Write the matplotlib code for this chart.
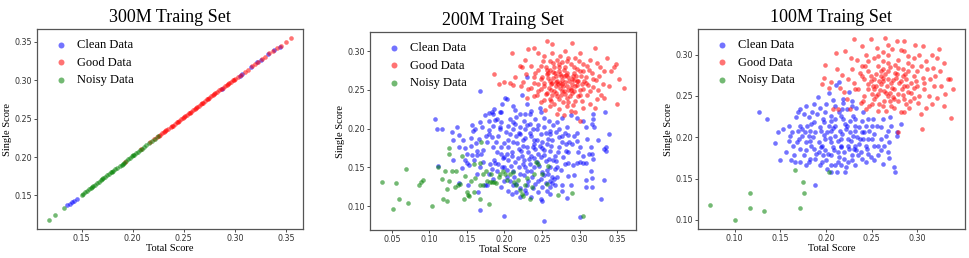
import matplotlib
matplotlib.use("Agg")
import matplotlib.pyplot as plt

plt.rcParams['font.family'] = ['Liberation Serif', 'DejaVu Serif']

titles = ['300M Traing Set', '200M Traing Set', '100M Traing Set']
labels = ['Clean Data', 'Good Data', 'Noisy Data']
colors = ['blue', 'red', 'green']

# ---- 300M: points lie on the diagonal ----
clean_300 = [(0.136, 0.137), (0.138, 0.139), (0.140, 0.141), (0.142, 0.143), (0.145, 0.145),
             (0.287, 0.289), (0.305, 0.306), (0.307, 0.308), (0.316, 0.317), (0.322, 0.324),
             (0.326, 0.327), (0.333, 0.334), (0.338, 0.339), (0.344, 0.344)]
good_300 = [(0.192, 0.193), (0.208, 0.210), (0.217, 0.219), (0.221, 0.223), (0.224, 0.226),
            (0.227, 0.229), (0.229, 0.231), (0.231, 0.233), (0.233, 0.235), (0.235, 0.237),
            (0.237, 0.239), (0.239, 0.241), (0.241, 0.243), (0.243, 0.245), (0.245, 0.247),
            (0.247, 0.249), (0.249, 0.251), (0.251, 0.253), (0.253, 0.255), (0.255, 0.257),
            (0.257, 0.259), (0.259, 0.261), (0.261, 0.263), (0.263, 0.265), (0.265, 0.267),
            (0.267, 0.269), (0.269, 0.271), (0.271, 0.273), (0.273, 0.275), (0.275, 0.277),
            (0.277, 0.279), (0.279, 0.281), (0.281, 0.283), (0.283, 0.285), (0.285, 0.287),
            (0.288, 0.290), (0.290, 0.292), (0.292, 0.294), (0.294, 0.296), (0.296, 0.298),
            (0.298, 0.300), (0.300, 0.302), (0.303, 0.304), (0.306, 0.307), (0.310, 0.311),
            (0.313, 0.314), (0.317, 0.318), (0.320, 0.321), (0.323, 0.324), (0.327, 0.328),
            (0.330, 0.331), (0.334, 0.335), (0.337, 0.338), (0.341, 0.342), (0.345, 0.345),
            (0.350, 0.350), (0.355, 0.355), (0.226, 0.228), (0.232, 0.234), (0.238, 0.240),
            (0.244, 0.246), (0.250, 0.252), (0.256, 0.258), (0.262, 0.264), (0.268, 0.270),
            (0.274, 0.276), (0.280, 0.282), (0.286, 0.288), (0.293, 0.295), (0.299, 0.301)]
noisy_300 = [(0.118, 0.118), (0.124, 0.124), (0.133, 0.134), (0.150, 0.151), (0.151, 0.152),
             (0.153, 0.154), (0.155, 0.156), (0.157, 0.158), (0.159, 0.160), (0.161, 0.162),
             (0.163, 0.164), (0.165, 0.166), (0.167, 0.168), (0.169, 0.170), (0.171, 0.172),
             (0.173, 0.174), (0.175, 0.176), (0.177, 0.178), (0.179, 0.180), (0.181, 0.182),
             (0.183, 0.184), (0.185, 0.186), (0.187, 0.188), (0.189, 0.190), (0.191, 0.192),
             (0.193, 0.195), (0.195, 0.197), (0.197, 0.199), (0.199, 0.201), (0.201, 0.203),
             (0.203, 0.205), (0.205, 0.207), (0.207, 0.209), (0.209, 0.211), (0.211, 0.213),
             (0.213, 0.215), (0.216, 0.218), (0.219, 0.221), (0.222, 0.224), (0.225, 0.227),
             (0.160, 0.161), (0.170, 0.171), (0.180, 0.181), (0.190, 0.191), (0.200, 0.202)]

# ---- 200M ----
clean_200 = [(0.167, 0.249), (0.108, 0.212), (0.110, 0.199), (0.117, 0.200), (0.137, 0.202),
             (0.157, 0.205), (0.168, 0.208), (0.174, 0.217), (0.179, 0.220), (0.183, 0.222),
             (0.185, 0.219), (0.186, 0.225), (0.180, 0.210), (0.187, 0.211), (0.195, 0.221),
             (0.197, 0.232), (0.161, 0.199), (0.170, 0.202), (0.179, 0.198), (0.185, 0.204),
             (0.194, 0.202), (0.230, 0.266), (0.223, 0.244), (0.201, 0.240), (0.203, 0.238),
             (0.194, 0.222), (0.211, 0.229), (0.214, 0.224), (0.221, 0.219), (0.227, 0.219),
             (0.234, 0.219), (0.230, 0.232), (0.236, 0.223), (0.247, 0.227), (0.249, 0.221),
             (0.241, 0.212), (0.252, 0.214), (0.259, 0.210), (0.270, 0.208), (0.276, 0.214),
             (0.288, 0.217), (0.297, 0.214), (0.305, 0.210), (0.318, 0.219), (0.318, 0.212),
             (0.334, 0.222), (0.309, 0.202), (0.196, 0.208), (0.207, 0.212), (0.214, 0.206),
             (0.221, 0.202), (0.227, 0.199), (0.234, 0.206), (0.243, 0.199), (0.252, 0.202),
             (0.261, 0.197), (0.272, 0.199), (0.283, 0.202), (0.212, 0.199), (0.194, 0.199),
             (0.130, 0.196), (0.139, 0.177), (0.132, 0.160), (0.112, 0.152), (0.143, 0.149),
             (0.150, 0.156), (0.153, 0.153), (0.156, 0.188), (0.162, 0.181), (0.164, 0.171),
             (0.157, 0.166), (0.163, 0.166), (0.169, 0.168), (0.172, 0.172), (0.177, 0.183),
             (0.179, 0.193), (0.184, 0.189), (0.189, 0.183), (0.196, 0.177), (0.195, 0.168),
             (0.198, 0.162), (0.192, 0.155), (0.181, 0.155), (0.172, 0.157), (0.168, 0.150),
             (0.163, 0.142), (0.179, 0.142), (0.140, 0.130), (0.151, 0.127), (0.165, 0.119),
             (0.168, 0.095), (0.174, 0.127), (0.177, 0.127), (0.199, 0.087), (0.252, 0.081),
             (0.300, 0.086), (0.339, 0.193), (0.328, 0.110), (0.333, 0.134), (0.316, 0.125),
             (0.308, 0.125), (0.316, 0.137), (0.309, 0.134), (0.315, 0.145), (0.283, 0.111),
             (0.284, 0.139), (0.261, 0.116), (0.249, 0.110), (0.250, 0.107), (0.221, 0.112),
             (0.210, 0.116), (0.316, 0.168), (0.313, 0.167), (0.332, 0.174), (0.335, 0.171),
             (0.335, 0.176), (0.318, 0.161), (0.309, 0.156), (0.305, 0.156), (0.300, 0.157),
             (0.297, 0.156), (0.291, 0.153), (0.285, 0.156), (0.310, 0.187), (0.324, 0.186),
             (0.315, 0.177), (0.300, 0.177), (0.297, 0.184), (0.286, 0.183), (0.285, 0.192),
             (0.296, 0.194), (0.282, 0.171), (0.278, 0.163), (0.275, 0.147), (0.267, 0.148),
             (0.261, 0.150), (0.256, 0.147), (0.250, 0.144), (0.263, 0.138), (0.260, 0.133),
             (0.267, 0.127), (0.261, 0.125), (0.255, 0.130), (0.250, 0.125), (0.241, 0.129),
             (0.238, 0.123), (0.230, 0.127), (0.227, 0.121), (0.221, 0.123), (0.216, 0.129),
             (0.211, 0.127), (0.207, 0.133), (0.203, 0.138), (0.199, 0.133), (0.237, 0.138),
             (0.230, 0.146), (0.221, 0.142), (0.212, 0.146), (0.203, 0.147), (0.197, 0.150),
             (0.243, 0.157), (0.234, 0.155), (0.225, 0.155), (0.214, 0.157), (0.205, 0.159),
             (0.199, 0.163), (0.210, 0.165), (0.223, 0.165), (0.236, 0.165), (0.248, 0.163),
             (0.259, 0.161), (0.267, 0.165), (0.261, 0.171), (0.252, 0.172), (0.241, 0.174),
             (0.230, 0.176), (0.219, 0.174), (0.205, 0.176), (0.199, 0.181), (0.212, 0.183),
             (0.225, 0.185), (0.239, 0.185), (0.250, 0.183), (0.263, 0.185), (0.272, 0.189),
             (0.261, 0.193), (0.248, 0.193), (0.234, 0.194), (0.221, 0.193), (0.208, 0.193),
             (0.273, 0.176), (0.276, 0.183), (0.132, 0.185), (0.145, 0.186), (0.140, 0.192),
             (0.148, 0.175), (0.155, 0.178), (0.158, 0.197), (0.150, 0.168), (0.317, 0.206),
             (0.319, 0.202), (0.205, 0.185), (0.215, 0.190), (0.225, 0.178), (0.232, 0.170),
             (0.240, 0.180), (0.245, 0.168), (0.218, 0.162), (0.228, 0.150), (0.236, 0.145),
             (0.246, 0.152), (0.255, 0.158), (0.262, 0.178), (0.268, 0.158), (0.210, 0.170),
             (0.220, 0.195), (0.235, 0.190), (0.250, 0.175), (0.258, 0.187), (0.203, 0.168),
             (0.190, 0.170), (0.186, 0.160), (0.226, 0.160), (0.240, 0.162), (0.252, 0.140),
             (0.244, 0.132), (0.232, 0.132), (0.257, 0.120), (0.266, 0.135), (0.270, 0.150),
             (0.280, 0.155), (0.285, 0.170), (0.290, 0.180), (0.268, 0.196), (0.245, 0.205),
             (0.230, 0.205), (0.215, 0.215), (0.200, 0.150), (0.190, 0.145), (0.185, 0.135),
             (0.195, 0.125), (0.205, 0.120), (0.217, 0.181), (0.222, 0.171), (0.228, 0.188),
             (0.233, 0.161), (0.238, 0.176), (0.243, 0.186), (0.247, 0.178), (0.253, 0.166),
             (0.256, 0.180), (0.264, 0.160), (0.271, 0.170), (0.277, 0.190), (0.282, 0.180),
             (0.226, 0.140), (0.219, 0.150), (0.209, 0.152), (0.213, 0.138), (0.240, 0.150),
             (0.248, 0.135), (0.258, 0.142), (0.263, 0.130), (0.270, 0.138), (0.276, 0.128),
             (0.244, 0.118), (0.236, 0.112), (0.229, 0.117), (0.216, 0.118), (0.192, 0.190),
             (0.202, 0.196), (0.212, 0.208), (0.226, 0.210), (0.238, 0.199), (0.255, 0.195),
             (0.265, 0.205), (0.280, 0.195), (0.292, 0.190), (0.298, 0.170), (0.304, 0.165),
             (0.293, 0.140), (0.288, 0.128), (0.276, 0.120), (0.185, 0.176), (0.175, 0.190),
             (0.190, 0.213), (0.205, 0.203), (0.160, 0.160), (0.166, 0.187), (0.147, 0.160),
             (0.183, 0.148), (0.188, 0.156)]
good_200 = [(0.257, 0.313), (0.263, 0.309), (0.290, 0.311), (0.320, 0.304), (0.210, 0.297),
            (0.232, 0.303), (0.239, 0.304), (0.228, 0.289), (0.252, 0.294), (0.274, 0.294),
            (0.301, 0.298), (0.337, 0.291), (0.348, 0.284), (0.346, 0.279), (0.359, 0.253),
            (0.353, 0.264), (0.350, 0.232), (0.339, 0.255), (0.329, 0.244), (0.333, 0.240),
            (0.207, 0.259), (0.212, 0.256), (0.222, 0.255), (0.221, 0.281), (0.223, 0.279),
            (0.225, 0.260), (0.214, 0.266), (0.239, 0.242), (0.243, 0.244), (0.248, 0.234),
            (0.261, 0.229), (0.270, 0.219), (0.279, 0.217), (0.288, 0.223), (0.294, 0.221),
            (0.301, 0.210), (0.305, 0.227), (0.314, 0.232), (0.321, 0.227), (0.323, 0.238),
            (0.303, 0.236), (0.283, 0.229), (0.272, 0.226), (0.254, 0.224), (0.230, 0.240),
            (0.232, 0.251), (0.326, 0.268), (0.333, 0.274), (0.342, 0.274), (0.314, 0.289),
            (0.323, 0.285), (0.305, 0.283), (0.294, 0.291), (0.283, 0.287), (0.265, 0.285),
            (0.248, 0.281), (0.241, 0.272), (0.261, 0.276), (0.272, 0.279), (0.292, 0.279),
            (0.301, 0.274), (0.312, 0.276), (0.318, 0.264), (0.309, 0.259), (0.298, 0.261),
            (0.290, 0.264), (0.279, 0.268), (0.268, 0.268), (0.256, 0.270), (0.248, 0.264),
            (0.239, 0.259), (0.252, 0.255), (0.263, 0.259), (0.274, 0.259), (0.283, 0.255),
            (0.294, 0.255), (0.305, 0.251), (0.314, 0.249), (0.301, 0.244), (0.290, 0.246),
            (0.279, 0.249), (0.268, 0.246), (0.256, 0.246), (0.248, 0.251), (0.261, 0.238),
            (0.272, 0.238), (0.283, 0.240), (0.294, 0.236), (0.274, 0.270), (0.186, 0.271),
            (0.193, 0.258), (0.199, 0.260), (0.265, 0.265), (0.270, 0.262), (0.275, 0.268),
            (0.280, 0.260), (0.285, 0.266), (0.278, 0.255), (0.268, 0.255), (0.260, 0.262),
            (0.272, 0.274), (0.283, 0.272), (0.290, 0.258), (0.295, 0.268), (0.262, 0.250),
            (0.276, 0.248), (0.288, 0.250), (0.258, 0.272), (0.266, 0.280), (0.281, 0.280),
            (0.297, 0.262), (0.270, 0.242), (0.255, 0.245), (0.300, 0.250), (0.292, 0.272),
            (0.245, 0.258), (0.250, 0.266), (0.262, 0.236), (0.285, 0.235), (0.308, 0.266),
            (0.304, 0.274), (0.276, 0.286), (0.255, 0.280), (0.262, 0.258), (0.267, 0.272),
            (0.271, 0.258), (0.277, 0.263), (0.282, 0.269), (0.286, 0.261), (0.289, 0.253),
            (0.293, 0.263), (0.297, 0.256), (0.279, 0.276), (0.273, 0.284), (0.264, 0.273),
            (0.258, 0.265), (0.253, 0.259), (0.259, 0.253), (0.266, 0.249), (0.274, 0.252),
            (0.281, 0.245), (0.287, 0.242), (0.293, 0.248), (0.298, 0.242), (0.303, 0.257),
            (0.306, 0.262), (0.311, 0.256), (0.302, 0.268), (0.296, 0.277), (0.288, 0.283),
            (0.284, 0.291), (0.270, 0.289), (0.260, 0.287), (0.251, 0.287), (0.244, 0.276),
            (0.240, 0.266), (0.236, 0.253), (0.245, 0.249), (0.252, 0.237), (0.266, 0.232),
            (0.278, 0.234), (0.291, 0.230), (0.310, 0.244), (0.318, 0.254), (0.322, 0.263),
            (0.316, 0.272), (0.310, 0.281), (0.299, 0.287), (0.263, 0.297), (0.280, 0.300),
            (0.245, 0.298), (0.327, 0.279), (0.331, 0.258), (0.325, 0.250), (0.235, 0.281),
            (0.229, 0.270), (0.277, 0.257), (0.284, 0.250), (0.269, 0.260), (0.256, 0.276),
            (0.291, 0.268), (0.275, 0.244), (0.263, 0.243)]
noisy_200 = [(0.037, 0.131), (0.056, 0.130), (0.052, 0.097), (0.060, 0.110), (0.069, 0.148),
             (0.071, 0.104), (0.086, 0.127), (0.089, 0.131), (0.091, 0.134), (0.103, 0.100),
             (0.111, 0.151), (0.117, 0.135), (0.118, 0.110), (0.121, 0.145), (0.124, 0.122),
             (0.124, 0.107), (0.126, 0.175), (0.126, 0.167), (0.126, 0.133), (0.130, 0.146),
             (0.134, 0.125), (0.136, 0.146), (0.138, 0.127), (0.141, 0.129), (0.143, 0.165),
             (0.146, 0.109), (0.148, 0.139), (0.150, 0.118), (0.152, 0.115), (0.153, 0.113),
             (0.155, 0.132), (0.159, 0.155), (0.159, 0.118), (0.161, 0.136), (0.167, 0.128),
             (0.168, 0.156), (0.168, 0.109), (0.169, 0.183), (0.171, 0.141), (0.172, 0.128),
             (0.175, 0.145), (0.177, 0.133), (0.179, 0.103), (0.181, 0.131), (0.182, 0.142),
             (0.184, 0.131), (0.186, 0.131), (0.189, 0.130), (0.193, 0.138), (0.194, 0.142),
             (0.198, 0.146), (0.201, 0.142), (0.203, 0.134), (0.207, 0.142), (0.211, 0.144),
             (0.213, 0.131), (0.216, 0.127), (0.218, 0.134), (0.221, 0.121), (0.223, 0.116),
             (0.225, 0.113), (0.228, 0.127), (0.230, 0.136), (0.234, 0.109), (0.237, 0.125),
             (0.239, 0.142), (0.242, 0.157), (0.245, 0.155), (0.250, 0.142), (0.257, 0.129),
             (0.258, 0.152), (0.271, 0.115), (0.290, 0.117), (0.304, 0.087)]

# ---- 100M ----
clean_100 = [(0.127, 0.230), (0.135, 0.222), (0.144, 0.193), (0.147, 0.206), (0.150, 0.173),
             (0.153, 0.210), (0.160, 0.214), (0.161, 0.202), (0.165, 0.178), (0.166, 0.170),
             (0.167, 0.224), (0.171, 0.234), (0.178, 0.238), (0.172, 0.170), (0.176, 0.178),
             (0.188, 0.142), (0.191, 0.249), (0.203, 0.253), (0.214, 0.267), (0.211, 0.263),
             (0.219, 0.246), (0.225, 0.255), (0.228, 0.238), (0.201, 0.162), (0.197, 0.178),
             (0.196, 0.190), (0.188, 0.206), (0.181, 0.202), (0.178, 0.194), (0.174, 0.202),
             (0.172, 0.214), (0.179, 0.214), (0.187, 0.218), (0.190, 0.228), (0.197, 0.222),
             (0.203, 0.214), (0.210, 0.222), (0.214, 0.230), (0.219, 0.222), (0.223, 0.214),
             (0.230, 0.226), (0.232, 0.214), (0.239, 0.206), (0.237, 0.198), (0.230, 0.202),
             (0.224, 0.190), (0.217, 0.198), (0.210, 0.202), (0.205, 0.194), (0.199, 0.198),
             (0.192, 0.194), (0.187, 0.186), (0.192, 0.182), (0.199, 0.184), (0.206, 0.178),
             (0.213, 0.182), (0.220, 0.182), (0.228, 0.178), (0.233, 0.184), (0.224, 0.170),
             (0.217, 0.166), (0.212, 0.158), (0.221, 0.158), (0.232, 0.166), (0.239, 0.174),
             (0.246, 0.180), (0.244, 0.190), (0.250, 0.198), (0.257, 0.190), (0.260, 0.198),
             (0.266, 0.202), (0.268, 0.182), (0.262, 0.168), (0.269, 0.175), (0.275, 0.164),
             (0.276, 0.158), (0.278, 0.202), (0.278, 0.206), (0.282, 0.216), (0.256, 0.214),
             (0.250, 0.214), (0.246, 0.222), (0.241, 0.230), (0.233, 0.236), (0.239, 0.220),
             (0.232, 0.190), (0.217, 0.190), (0.208, 0.188), (0.184, 0.190), (0.178, 0.184),
             (0.171, 0.186), (0.168, 0.194), (0.163, 0.206), (0.169, 0.208), (0.174, 0.210),
             (0.183, 0.208), (0.194, 0.208), (0.201, 0.206), (0.206, 0.208), (0.215, 0.208),
             (0.226, 0.206), (0.232, 0.208), (0.226, 0.220), (0.210, 0.214), (0.205, 0.226),
             (0.199, 0.230), (0.193, 0.236), (0.185, 0.230), (0.181, 0.224), (0.176, 0.228),
             (0.169, 0.230), (0.178, 0.166), (0.181, 0.170), (0.188, 0.174), (0.196, 0.170),
             (0.206, 0.166), (0.213, 0.170), (0.220, 0.174), (0.205, 0.158), (0.210, 0.166),
             (0.235, 0.178), (0.244, 0.170), (0.253, 0.172), (0.257, 0.178), (0.260, 0.184),
             (0.264, 0.190), (0.253, 0.190), (0.246, 0.198), (0.242, 0.206), (0.247, 0.208),
             (0.260, 0.212), (0.268, 0.208), (0.269, 0.194), (0.253, 0.204), (0.224, 0.198),
             (0.223, 0.234), (0.219, 0.242), (0.210, 0.238), (0.217, 0.226), (0.232, 0.222),
             (0.186, 0.200), (0.193, 0.212), (0.198, 0.203), (0.204, 0.199), (0.208, 0.211),
             (0.213, 0.196), (0.218, 0.204), (0.222, 0.210), (0.227, 0.196), (0.231, 0.186),
             (0.236, 0.192), (0.241, 0.198), (0.245, 0.186), (0.249, 0.176), (0.238, 0.182),
             (0.228, 0.172), (0.222, 0.164), (0.214, 0.176), (0.202, 0.180), (0.195, 0.188),
             (0.189, 0.180), (0.182, 0.196), (0.177, 0.206), (0.170, 0.198), (0.164, 0.190),
             (0.159, 0.196), (0.156, 0.182), (0.162, 0.172), (0.183, 0.174), (0.193, 0.166),
             (0.200, 0.172), (0.209, 0.184), (0.216, 0.188), (0.225, 0.186), (0.234, 0.200),
             (0.244, 0.214), (0.251, 0.222), (0.262, 0.222), (0.271, 0.214), (0.270, 0.225),
             (0.228, 0.244), (0.208, 0.245), (0.200, 0.240), (0.187, 0.240), (0.184, 0.216),
             (0.198, 0.218), (0.206, 0.220), (0.221, 0.216), (0.218, 0.234), (0.236, 0.212)]
good_100 = [(0.199, 0.287), (0.211, 0.302), (0.221, 0.304), (0.231, 0.319), (0.239, 0.310),
            (0.249, 0.319), (0.265, 0.320), (0.278, 0.316), (0.286, 0.304), (0.306, 0.310),
            (0.322, 0.296), (0.324, 0.307), (0.329, 0.290), (0.336, 0.271), (0.339, 0.258),
            (0.331, 0.252), (0.334, 0.270), (0.329, 0.238), (0.337, 0.223), (0.305, 0.210),
            (0.304, 0.228), (0.310, 0.236), (0.301, 0.242), (0.196, 0.264), (0.198, 0.272),
            (0.205, 0.267), (0.203, 0.260), (0.215, 0.260), (0.223, 0.246), (0.208, 0.234),
            (0.213, 0.234), (0.226, 0.234), (0.244, 0.234), (0.250, 0.240), (0.257, 0.232),
            (0.266, 0.232), (0.271, 0.238), (0.282, 0.230), (0.286, 0.230), (0.279, 0.206),
            (0.224, 0.270), (0.228, 0.282), (0.239, 0.286), (0.246, 0.292), (0.257, 0.298),
            (0.268, 0.300), (0.279, 0.294), (0.290, 0.290), (0.296, 0.296), (0.304, 0.286),
            (0.311, 0.282), (0.314, 0.270), (0.307, 0.266), (0.300, 0.262), (0.293, 0.254),
            (0.286, 0.246), (0.275, 0.246), (0.264, 0.244), (0.253, 0.246), (0.242, 0.250),
            (0.235, 0.258), (0.231, 0.266), (0.239, 0.274), (0.246, 0.280), (0.257, 0.286),
            (0.268, 0.290), (0.279, 0.284), (0.290, 0.280), (0.296, 0.274), (0.300, 0.280),
            (0.293, 0.266), (0.286, 0.262), (0.275, 0.258), (0.264, 0.256), (0.253, 0.258),
            (0.246, 0.264), (0.253, 0.270), (0.260, 0.274), (0.268, 0.270), (0.277, 0.272),
            (0.284, 0.274), (0.260, 0.264), (0.271, 0.266), (0.280, 0.266), (0.268, 0.280),
            (0.260, 0.280), (0.249, 0.274), (0.242, 0.270), (0.257, 0.252), (0.268, 0.250),
            (0.279, 0.252), (0.246, 0.258), (0.241, 0.244), (0.307, 0.258), (0.318, 0.262),
            (0.320, 0.274), (0.313, 0.250), (0.302, 0.250), (0.255, 0.262), (0.262, 0.268),
            (0.272, 0.260), (0.265, 0.276), (0.276, 0.278), (0.250, 0.252), (0.283, 0.258),
            (0.288, 0.270), (0.262, 0.292), (0.270, 0.254), (0.258, 0.240), (0.292, 0.244),
            (0.258, 0.268), (0.263, 0.272), (0.267, 0.262), (0.273, 0.269), (0.278, 0.276),
            (0.282, 0.268), (0.287, 0.276), (0.289, 0.262), (0.284, 0.283), (0.276, 0.288),
            (0.270, 0.285), (0.263, 0.283), (0.255, 0.276), (0.249, 0.268), (0.252, 0.262),
            (0.259, 0.257), (0.266, 0.253), (0.273, 0.249), (0.279, 0.244), (0.284, 0.251),
            (0.290, 0.255), (0.296, 0.260), (0.299, 0.268), (0.294, 0.286), (0.290, 0.298),
            (0.282, 0.305), (0.272, 0.307), (0.262, 0.303), (0.253, 0.296), (0.243, 0.286),
            (0.237, 0.278), (0.232, 0.258), (0.238, 0.242), (0.247, 0.238), (0.262, 0.238),
            (0.275, 0.236), (0.291, 0.236), (0.297, 0.248), (0.306, 0.272), (0.310, 0.292),
            (0.316, 0.300), (0.302, 0.300), (0.317, 0.284), (0.325, 0.280), (0.326, 0.262),
            (0.322, 0.248), (0.316, 0.240), (0.234, 0.293), (0.227, 0.296), (0.218, 0.275),
            (0.212, 0.283), (0.220, 0.255), (0.268, 0.312), (0.256, 0.308), (0.244, 0.300),
            (0.286, 0.316), (0.298, 0.312), (0.288, 0.240), (0.270, 0.244), (0.255, 0.250)]
noisy_100 = [(0.073, 0.118), (0.100, 0.100), (0.117, 0.133), (0.117, 0.115), (0.132, 0.111),
             (0.166, 0.160), (0.171, 0.114), (0.175, 0.146), (0.176, 0.132), (0.203, 0.158)]

panels = [
    [clean_300, good_300, noisy_300],
    [clean_200, good_200, noisy_200],
    [clean_100, good_100, noisy_100],
]
ticks = [
    ([0.15, 0.20, 0.25, 0.30, 0.35], [0.15, 0.20, 0.25, 0.30, 0.35]),
    ([0.05, 0.10, 0.15, 0.20, 0.25, 0.30, 0.35], [0.10, 0.15, 0.20, 0.25, 0.30]),
    ([0.10, 0.15, 0.20, 0.25, 0.30], [0.10, 0.15, 0.20, 0.25, 0.30]),
]
positions = [
    [0.0382, 0.1124, 0.2745, 0.7752],
    [0.3818, 0.1085, 0.2745, 0.7674],
    [0.7203, 0.1124, 0.2755, 0.7752],
]

fig = plt.figure(figsize=(9.69, 2.58), dpi=100)

for i in range(3):
    ax = fig.add_axes(positions[i])
    for series, lab, col in zip(panels[i], labels, colors):
        xs = [p[0] for p in series]
        ys = [p[1] for p in series]
        ax.scatter(xs, ys, s=11, c=col, alpha=0.55, linewidths=0, label=lab)
    ax.set_title(titles[i], fontsize=13, pad=5)
    ax.set_xlabel('Total Score', fontsize=7.5, labelpad=1)
    ax.set_ylabel('Single Score', fontsize=7.5, labelpad=2)
    ax.set_xticks(ticks[i][0])
    ax.set_yticks(ticks[i][1])
    ax.set_xticklabels([f'{t:.2f}' for t in ticks[i][0]], fontfamily='DejaVu Sans')
    ax.set_yticklabels([f'{t:.2f}' for t in ticks[i][1]], fontfamily='DejaVu Sans')
    ax.tick_params(labelsize=5.8, length=2, width=0.6, pad=1.5, colors='#333333')
    for sp in ax.spines.values():
        sp.set_color('#555555')
        sp.set_linewidth(0.9)
    ax.legend(loc='upper left', bbox_to_anchor=(0.03, 0.99), frameon=False,
              fontsize=9, markerscale=1.3, handlelength=1.2, handletextpad=0.7,
              labelspacing=0.45, borderaxespad=0.25)

plt.savefig('out.png', dpi=100)
